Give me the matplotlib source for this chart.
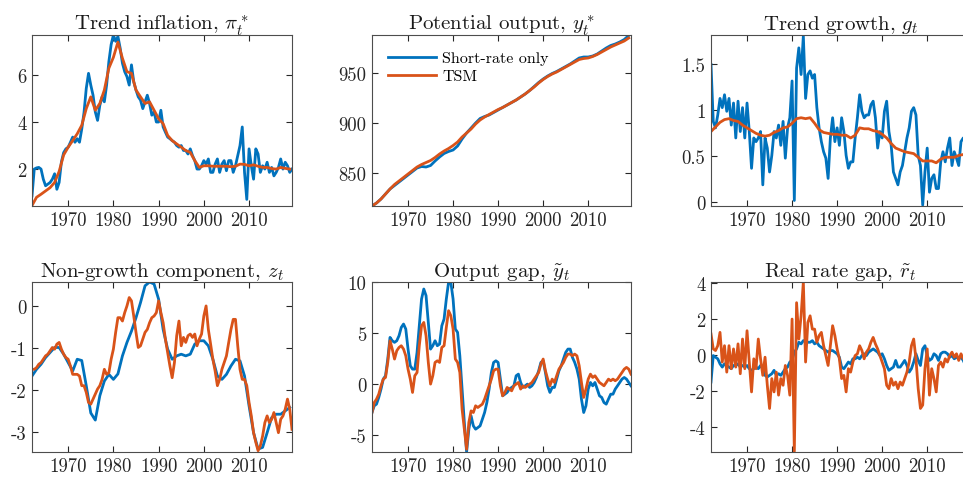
import numpy as np
import matplotlib
matplotlib.use("Agg")
import matplotlib.pyplot as plt

# ----------------------------
# Data
# ----------------------------
years_h = np.arange(1962, 2020, 0.5)   # half-year grid, 1962.0 .. 2019.5
years_a = np.arange(1962, 2020)        # annual grid, 1962 .. 2019

# Trend inflation
pi_short = [0.86, 2.0, 2.05, 2.07, 2.0, 1.57, 1.29, 1.36, 1.43, 1.57,
            1.8, 1.14, 1.43, 2.3, 2.7, 2.86, 2.93, 3.14, 3.36, 3.14,
            3.29, 3.14, 3.7, 4.4, 5.43, 6.07, 5.57, 5.14, 4.43, 4.07,
            4.71, 5.07, 4.86, 5.57, 6.57, 7.29, 7.7, 7.43, 7.64, 7.14,
            6.5, 6.14, 5.93, 5.57, 6.43, 5.71, 5.36, 5.07, 4.93, 4.57,
            4.86, 5.14, 4.79, 4.29, 4.43, 4.0, 4.0, 4.5, 3.79, 3.57,
            3.36, 3.29, 3.21, 3.14, 3.0, 2.93, 3.0, 2.79, 2.79, 2.64,
            2.86, 2.57, 2.36, 2.0, 2.0, 2.14, 2.36, 2.21, 2.43, 1.86,
            1.86, 2.21, 2.43, 1.86, 2.21, 2.36, 1.93, 2.36, 2.36, 1.86,
            2.14, 2.57, 3.0, 3.79, 1.86, 0.71, 2.86, 2.14, 1.57, 2.86,
            2.64, 1.86, 2.14, 2.0, 2.29, 1.86, 2.07, 1.71, 1.86, 2.07,
            2.43, 2.0, 2.29, 2.14, 1.86, 2.0]
pi_tsm = [0.45, 0.8, 0.93, 1.07, 1.21, 1.43, 1.9, 2.6, 2.93, 3.21,
          3.5, 3.86, 4.57, 5.07, 4.5, 4.79, 5.36, 6.29, 6.75, 7.4,
          6.71, 6.14, 6.07, 5.36, 5.07, 4.79, 4.86, 4.5, 4.14, 3.93,
          3.43, 3.21, 3.07, 2.93, 2.79, 2.71, 2.36, 2.07, 2.14, 2.14,
          2.12, 2.12, 2.12, 2.12, 2.1, 2.12, 2.21, 2.2, 2.14, 2.18,
          2.12, 2.07, 2.07, 2.02, 2.0, 2.07, 2.03, 2.0]

# Potential output
ystar_short = [817, 820, 824, 829, 834, 837.5, 841, 844.5, 848, 851.5,
               855, 856.5, 856, 857.5, 862, 866, 869.5, 871.5, 873, 877,
               884, 890, 895, 900, 904.5, 906.5, 908, 910.5, 913, 915.5,
               918, 920.5, 923, 926, 929, 932.5, 936.5, 940.5, 944, 947,
               949.5, 951.5, 954, 956.5, 959, 962, 965, 966, 966, 967,
               969, 972, 975, 977.5, 979, 981, 983.5, 987.5]
ystar_tsm = [817, 820, 824, 829, 834, 838.5, 842, 845.5, 849, 852.5,
             856, 858.5, 860.5, 862.5, 865.5, 869, 872, 874.5, 877.5, 881,
             886, 890, 894, 899, 903, 906, 908.5, 911, 913.5, 915.5,
             918, 920.5, 923, 926, 929, 932.5, 936, 940, 943.5, 946.5,
             949, 951, 953.5, 956, 958.5, 961, 963.5, 964.5, 965, 966.5,
             968.5, 971, 973.5, 976, 978, 980, 982, 985]

# Trend growth
g_short = [1.5, 0.88, 0.81, 0.95, 1.13, 1.03, 1.17, 0.99, 1.13, 0.84,
           1.08, 0.70, 1.10, 0.77, 1.03, 0.70, 1.08, 0.77, 0.37, 0.70,
           0.66, 0.70, 0.77, 0.19, 0.70, 0.59, 0.33, 0.51, 0.77, 0.70,
           0.84, 0.62, 0.88, 0.48, 0.81, 0.92, 1.32, 0.02, 1.46, 1.68,
           1.39, 1.81, 1.13, 1.39, 1.43, 1.35, 1.39, 1.03, 0.81, 0.66,
           0.55, 0.48, 0.26, 0.70, 0.92, 0.66, 0.81, 0.62, 0.92, 0.77,
           0.51, 0.37, 0.44, 0.44, 0.70, 0.92, 1.17, 0.99, 0.92, 0.95,
           0.95, 1.06, 1.10, 0.92, 0.59, 0.77, 0.70, 0.99, 1.10, 0.77,
           0.62, 0.33, 0.26, 0.19, 0.33, 0.40, 0.55, 0.70, 0.81, 0.99,
           1.03, 0.95, 0.51, 0.40, -0.03, 0.33, 0.59, 0.11, 0.26, 0.30,
           0.15, 0.15, 0.44, 0.55, 0.44, 0.59, 0.70, 0.40, 0.55, 0.48,
           0.40, 0.66, 0.70, 0.66, 0.60, 0.65]
g_tsm = [0.77, 0.82, 0.87, 0.90, 0.91, 0.89, 0.88, 0.84, 0.81, 0.78,
         0.75, 0.73, 0.72, 0.73, 0.76, 0.78, 0.81, 0.82, 0.86, 0.91,
         0.92, 0.91, 0.92, 0.86, 0.79, 0.76, 0.75, 0.74, 0.74, 0.73,
         0.73, 0.70, 0.73, 0.81, 0.80, 0.80, 0.78, 0.77, 0.74, 0.70,
         0.64, 0.59, 0.57, 0.55, 0.54, 0.53, 0.49, 0.45, 0.45, 0.45,
         0.43, 0.47, 0.49, 0.49, 0.49, 0.51, 0.52, 0.54]

# Non-growth component
z_short = [-1.67, -1.51, -1.39, -1.23, -1.11, -0.99, -0.99, -1.15, -1.35, -1.55,
           -1.27, -1.3, -1.90, -2.55, -2.72, -2.14, -1.79, -1.63, -1.75, -1.62,
           -1.19, -0.87, -0.60, -0.28, 0.08, 0.48, 0.57, 0.52, 0.16, -0.56,
           -1.03, -1.27, -1.19, -1.15, -1.19, -1.15, -0.91, -0.83, -0.83, -0.95,
           -1.27, -1.67, -1.75, -1.63, -1.43, -1.27, -1.31, -1.67, -2.38, -3.02,
           -3.41, -3.37, -3.02, -2.66, -2.58, -2.58, -2.5, -2.42]
z_tsm = [-1.51, -1.51, -1.47, -1.39, -1.35, -1.27, -1.19, -1.15, -1.07, -0.99,
         -1.03, -0.91, -0.87, -1.03, -1.15, -1.23, -1.27, -1.43, -1.63, -1.63,
         -1.63, -1.67, -1.90, -1.90, -2.06, -2.30, -2.34, -2.22, -2.10, -1.98,
         -1.90, -1.75, -1.51, -1.63, -1.59, -1.27, -1.03, -0.63, -0.28, -0.28,
         -0.36, -0.16, 0.0, 0.2, 0.12, -0.24, -0.63, -0.99, -0.95, -0.79,
         -0.63, -0.56, -0.40, -0.28, -0.24, -0.16, 0.12, -0.16, -0.40, -0.79,
         -1.11, -1.43, -1.71, -1.35, -0.71, -0.36, -0.95, -0.75, -0.87, -0.71,
         -0.67, -0.75, -0.67, -0.95, -0.79, -0.67, -0.24, 0.0, -0.56, -0.91,
         -1.27, -1.55, -1.90, -1.75, -1.51, -1.35, -1.19, -0.87, -0.56, -0.32,
         -0.32, -0.95, -1.51, -1.75, -1.75, -1.90, -2.30, -2.62, -3.02, -3.25,
         -3.45, -3.33, -3.10, -2.78, -2.62, -2.78, -2.70, -2.54, -2.78, -3.02,
         -2.70, -2.62, -2.46, -2.22, -2.46, -2.94]

# Output gap
ygap_short = [-2.82, -2.16, -2.0, -1.34, -0.52, 0.46, 0.79, 2.43, 4.56, 4.23,
              4.07, 4.23, 4.72, 5.54, 5.87, 5.38, 3.41, 1.77, 1.44, 1.44,
              3.08, 5.70, 8.33, 9.31, 8.66, 6.03, 3.41, 3.74, 4.23, 3.74,
              3.90, 5.70, 6.36, 8.33, 9.97, 9.97, 8.33, 5.38, 5.05, 2.75,
              -0.52, -3.8, -6.7, -4.46, -3.15, -4.13, -4.46, -4.30, -4.13, -3.48,
              -2.82, -1.84, -0.52, 1.11, 2.10, 2.26, 2.10, 0.46, -1.18, -1.02,
              -0.85, -0.52, -0.36, -0.2, 0.79, 0.95, 0.13, -0.36, -0.2, -0.03,
              -0.36, -0.2, 0.13, 0.62, 1.28, 2.10, 2.26, 1.11, -0.2, -0.85,
              -0.36, -0.36, 0.46, 1.28, 1.77, 2.43, 3.08, 3.41, 3.41, 2.59,
              2.10, 1.44, 0.46, -1.51, -2.82, -2.16, -0.52, 0.13, -0.2, 0.13,
              -0.52, -1.18, -1.34, -1.84, -2.0, -1.5, -1.02, -1.02, -0.52, -0.2,
              0.13, 0.46, 0.62, 0.46, 0.13, -0.2]
ygap_tsm = [-2.82, -1.84, -1.51, -1.02, -0.2, 0.46, 0.62, 2.10, 4.23, 3.41,
            2.43, 3.25, 3.57, 3.74, 3.41, 2.75, 1.44, 0.46, -0.85, 0.79,
            1.11, 3.74, 5.70, 6.03, 4.72, 2.10, -0.03, 0.79, 2.10, 2.26,
            2.10, 3.57, 3.74, 5.54, 7.18, 6.69, 5.38, 2.43, 2.10, 1.11,
            -2.49, -4.46, -6.43, -3.8, -2.66, -2.82, -2.16, -2.33, -2.16, -2.0,
            -1.51, -0.85, -0.2, 0.46, 1.28, 1.44, 1.44, -0.2, -1.18, -0.85,
            -0.36, -0.52, -0.69, -0.2, -0.03, 0.13, -0.52, -0.2, -0.36, -0.2,
            -0.03, 0.13, 0.46, 0.79, 1.11, 1.93, 2.43, 1.28, 0.46, -0.2,
            0.46, 0.13, 0.79, 1.44, 1.77, 2.10, 2.59, 2.92, 2.92, 2.75,
            2.92, 2.75, 1.77, 0.13, -1.34, -0.52, 0.46, 0.95, 0.62, 0.79,
            0.46, 0.13, -0.03, -0.2, 0.13, 0.46, 0.30, 0.46, 0.30, 0.46,
            0.79, 1.11, 1.44, 1.61, 1.44, 0.95]

# Real rate gap
rgap_short = [-1.51, -0.04, -0.13, -0.22, -0.50, -0.68, -0.50, -0.59, -0.68, -0.77,
              -0.59, -0.59, -0.50, -0.68, -0.59, -0.68, -0.59, -0.77, -0.86, -0.77,
              -0.68, -0.77, -0.59, -0.77, -1.14, -1.23, -1.14, -1.05, -0.86, -1.14,
              -1.05, -1.14, -0.96, -0.77, -0.68, -0.40, -0.31, 0.15, 0.33, 0.70,
              0.61, 0.79, 0.79, 0.70, 0.70, 0.79, 0.61, 0.70, 0.51, 0.42,
              0.33, 0.24, 0.15, 0.24, 0.24, 0.15, 0.06, -0.13, -0.68, -0.77,
              -0.59, -0.40, -0.50, -0.22, -0.22, -0.13, -0.22, -0.04, 0.06, -0.04,
              0.15, 0.24, 0.33, 0.24, 0.15, -0.04, 0.06, -0.22, -0.59, -0.86,
              -0.77, -0.68, -0.31, -0.68, -0.68, -0.50, -0.31, -0.59, -0.96, -0.77,
              -0.40, 0.06, -0.31, -0.59, 0.33, 0.51, -0.04, -0.31, -0.22, 0.06,
              -0.04, -0.31, 0.06, 0.15, 0.15, 0.06, -0.13, -0.04, -0.22, -0.13,
              -0.22, -0.13, -0.31, -0.59, -0.40, -0.31]
rgap_tsm = [1.16, 0.33, 0.24, 0.51, 1.25, -0.40, 0.51, -0.96, 0.51, -0.77,
            0.33, -0.68, 0.61, -1.05, 0.88, -0.77, 1.34, -0.40, -2.06, -0.22,
            -0.77, 0.88, -0.22, -1.14, -0.13, -1.69, -2.98, -1.32, -2.06, -0.96,
            -2.24, -1.32, -1.69, -0.59, -1.14, -2.24, 1.99, -5.37, 2.90, 0.88,
            2.17, 4.05, -0.40, 1.80, 2.17, 1.43, 1.43, 0.70, 1.07, 1.25,
            0.51, -0.04, -0.59, 0.51, 1.62, 1.07, 0.33, -0.22, -1.32, -1.14,
            -2.06, -0.77, -0.96, -0.40, -0.04, 0.06, 0.51, 0.24, -0.22, 0.15,
            0.33, 0.70, 0.97, 0.61, 0.33, -0.04, -0.40, -0.77, -1.69, -1.88,
            -1.32, -1.69, -1.51, -1.88, -1.51, -1.69, -1.32, -0.96, -0.40, 0.51,
            0.88, -0.22, -1.88, -2.98, -2.79, -0.77, 0.33, -2.24, -0.77, -1.32,
            -2.06, -0.59, -0.40, -0.68, -0.22, -0.40, -0.04, 0.15, -0.13, 0.06,
            -0.31, 0.06, -0.22, -0.13, -0.04, -0.22]

# ----------------------------
# Style (MATLAB-like)
# ----------------------------
plt.rcParams["font.family"] = "serif"
plt.rcParams["font.serif"] = ["cmr10"]
plt.rcParams["mathtext.fontset"] = "cm"
plt.rcParams["axes.unicode_minus"] = False

BLUE = "#0072BD"
ORANGE = "#D95319"
LW = 2.0

fig = plt.figure(figsize=(9.63, 4.81), dpi=100)

W, H = 963, 481
def px_axes(left, top, right, bottom):
    return fig.add_axes([left / W, 1 - bottom / H, (right - left) / W, (bottom - top) / H])

panels = [
    (32, 36, 292, 207, r"Trend inflation, $\pi^*_t$",
     (years_h, pi_short), (years_a, pi_tsm), (0.43, 7.7), [2, 4, 6], ["2", "4", "6"]),
    (372, 36, 631, 207, r"Potential output, $y^*_t$",
     (years_a, ystar_short), (years_a, ystar_tsm), (817, 988), [850, 900, 950], ["850", "900", "950"]),
    (711, 36, 970, 207, r"Trend growth, $g_t$",
     (years_h, g_short), (years_a, g_tsm), (-0.04, 1.82), [0, 0.5, 1, 1.5], ["0", "0.5", "1", "1.5"]),
    (32, 283, 292, 453, r"Non-growth component, $z_t$",
     (years_a, z_short), (years_h, z_tsm), (-3.48, 0.57), [-3, -2, -1, 0], ["-3", "-2", "-1", "0"]),
    (372, 283, 631, 453, r"Output gap, $\tilde{y}_t$",
     (years_h, ygap_short), (years_h, ygap_tsm), (-6.7, 10), [-5, 0, 5, 10], ["-5", "0", "5", "10"]),
    (711, 283, 970, 453, r"Real rate gap, $\tilde{r}_t$",
     (years_h, rgap_short), (years_h, rgap_tsm), (-5.4, 4.05), [-4, -2, 0, 2, 4], ["-4", "-2", "0", "2", "4"]),
]

for i, (l, t, r, b, title, s1, s2, ylim, yt, ytl) in enumerate(panels):
    ax = px_axes(l, t, r, b)
    ax.plot(s1[0], s1[1], color=BLUE, lw=LW, label="Short-rate only")
    ax.plot(s2[0], s2[1], color=ORANGE, lw=LW, label="TSM")
    ax.set_xlim(1962, 2019.5)
    ax.set_ylim(*ylim)
    ax.set_xticks([1970, 1980, 1990, 2000, 2010])
    ax.set_yticks(yt)
    ax.set_yticklabels(ytl)
    ax.tick_params(direction="in", top=True, right=True, length=4, width=0.8,
                   labelsize=13.5, colors="#262626", pad=4)
    for sp in ax.spines.values():
        sp.set_color("#4d4d4d")
        sp.set_linewidth(0.8)
    ax.set_title(title, fontsize=15, pad=4, color="#1a1a1a")
    if i == 1:
        ax.legend(loc="upper left", frameon=False, fontsize=11.5, handlelength=3.0,
                  handletextpad=0.4, labelspacing=0.25, borderaxespad=0.6)

plt.savefig("out.png", dpi=100)
